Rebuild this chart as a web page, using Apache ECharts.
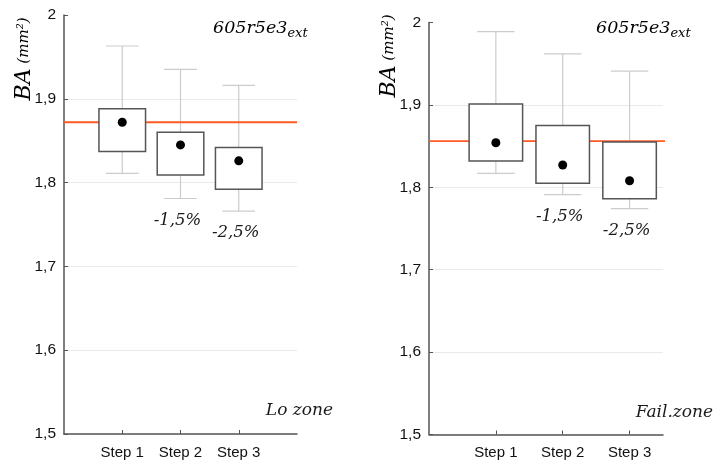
<!DOCTYPE html>
<html>
<head>
<meta charset="utf-8">
<script src="https://cdn.jsdelivr.net/npm/echarts@6/dist/echarts.min.js"></script>
<style>
html,body{margin:0;padding:0;background:#fff;}
#chart{width:715px;height:463px;}
</style>
</head>
<body>
<div id="chart"></div>
<script>
// ---- data ----
const categories = ['Step 1', 'Step 2', 'Step 3'];
const categoryPositions = [1, 2, 3];
const yTicks = [1.5, 1.6, 1.7, 1.8, 1.9, 2];
const changeLabels = ['', '-1,5%', '-2,5%'];

// Lo zone
const loMean = [1.872, 1.845, 1.826];
const loBoxTop = [1.888, 1.860, 1.842];
const loBoxBottom = [1.837, 1.809, 1.792];
const loWhiskerHigh = [1.963, 1.935, 1.916];
const loWhiskerLow = [1.811, 1.781, 1.766];
const loReference = 1.872;

// Fail. zone
const failMean = [1.854, 1.827, 1.808];
const failBoxTop = [1.901, 1.875, 1.855];
const failBoxBottom = [1.832, 1.805, 1.786];
const failWhiskerHigh = [1.989, 1.962, 1.941];
const failWhiskerLow = [1.817, 1.791, 1.774];
const failReference = 1.856;

const panelTitle = '605r5e3';
const panelTitleSub = 'ext';
const zoneNames = ['Lo zone', 'Fail.zone'];

// ---- build ----
function rows(mean, top, bottom, hi, lo) {
  return categoryPositions.map((x, i) => [x, lo[i], bottom[i], mean[i], top[i], hi[i], i]);
}
const loRows = rows(loMean, loBoxTop, loBoxBottom, loWhiskerHigh, loWhiskerLow);
const failRows = rows(failMean, failBoxTop, failBoxBottom, failWhiskerHigh, failWhiskerLow);

const serif = '"DejaVu Serif", "Liberation Serif", serif';
const sans = '"Liberation Sans", Arial, sans-serif';
const fmtY = v => String(+(+v).toFixed(1)).replace('.', ',');

function whiskerItem(params, api) {
  const x = api.value(0);
  const pHi = api.coord([x, api.value(5)]);
  const pLo = api.coord([x, api.value(1)]);
  const unit = api.size([1, 0])[0];
  const cw = unit * 0.56;
  const st = { stroke: '#cccccc', lineWidth: 1.2 };
  return {
    type: 'group',
    children: [
      { type: 'line', shape: { x1: pHi[0], y1: pHi[1], x2: pLo[0], y2: pLo[1] }, style: st },
      { type: 'line', shape: { x1: pHi[0] - cw / 2, y1: pHi[1], x2: pHi[0] + cw / 2, y2: pHi[1] }, style: st },
      { type: 'line', shape: { x1: pLo[0] - cw / 2, y1: pLo[1], x2: pLo[0] + cw / 2, y2: pLo[1] }, style: st }
    ]
  };
}
function boxItem(params, api) {
  const x = api.value(0);
  const pTop = api.coord([x, api.value(4)]);
  const pBot = api.coord([x, api.value(2)]);
  const pMean = api.coord([x, api.value(3)]);
  const pLo = api.coord([x, api.value(1)]);
  const unit = api.size([1, 0])[0];
  const bw = unit * 0.8;
  const label = changeLabels[api.value(6)];
  return {
    type: 'group',
    children: [
      { type: 'rect', shape: { x: pTop[0] - bw / 2, y: pTop[1], width: bw, height: pBot[1] - pTop[1] },
        style: { fill: '#ffffff', stroke: '#555555', lineWidth: 1.5 } },
      { type: 'circle', shape: { cx: pMean[0], cy: pMean[1], r: 4.5 }, style: { fill: '#000000' } },
      { type: 'text', style: { text: label, x: pLo[0] - 3, y: pLo[1] + 22, align: 'center', verticalAlign: 'middle',
        font: 'italic 16.5px ' + serif, fill: '#1a1a1a' } }
    ]
  };
}

function xAxis(gridIndex, max) {
  return {
    type: 'value', gridIndex, min: 0, max, interval: 1,
    axisLine: { show: true, lineStyle: { color: '#555', width: 1.5 } },
    axisTick: { show: true, inside: true, length: 4, customValues: categoryPositions, lineStyle: { color: '#555' } },
    axisLabel: { customValues: categoryPositions, formatter: v => categories[Math.round(v) - 1] || '',
      fontFamily: sans, fontSize: 15, color: '#111', margin: 11 },
    splitLine: { show: false }
  };
}
function yAxis(gridIndex) {
  return {
    type: 'value', gridIndex, min: 1.5, max: 2, interval: 0.1,
    axisLine: { show: true, lineStyle: { color: '#555', width: 1.5 } },
    axisTick: { show: true, inside: true, length: 4, lineStyle: { color: '#555' } },
    axisLabel: { formatter: fmtY, fontFamily: sans, fontSize: 15.5, color: '#111', margin: 8 },
    splitLine: { show: true, showMaxLine: false, lineStyle: { color: '#e9e9e9', width: 1 } }
  };
}

function panelSeries(idx, data, ref, lineEnd) {
  return [
    { type: 'custom', xAxisIndex: idx, yAxisIndex: idx, renderItem: whiskerItem, data, z: 2, silent: true },
    { type: 'line', xAxisIndex: idx, yAxisIndex: idx, data: [[0, ref], [lineEnd, ref]], symbol: 'none',
      lineStyle: { color: '#ff5a24', width: 1.8 }, z: 3, clip: false, silent: true },
    { type: 'custom', xAxisIndex: idx, yAxisIndex: idx, renderItem: boxItem, data, z: 4, silent: true }
  ];
}

const titleRich = {
  a: { fontFamily: serif, fontStyle: 'italic', fontSize: 17.5, color: '#1a1a1a' },
  b: { fontFamily: serif, fontStyle: 'italic', fontSize: 13, color: '#1a1a1a', verticalAlign: 'bottom', padding: [11, 0, 0, 0] }
};
const baRich = {
  a: { fontFamily: serif, fontStyle: 'italic', fontSize: 22, color: '#1a1a1a' },
  b: { fontFamily: serif, fontStyle: 'italic', fontSize: 15, color: '#1a1a1a' }
};

function panelGraphics(titleX, titleY, baX, baY, zoneX, zoneY, zoneName) {
  return [
    { type: 'text', x: titleX, y: titleY, style: { text: '{a|' + panelTitle + '}{b|' + panelTitleSub + '}', rich: titleRich,
      align: 'left', verticalAlign: 'middle' } },
    { type: 'text', x: baX, y: baY, rotation: Math.PI / 2, style: { text: '{a|BA}{b| (mm²)}', rich: baRich,
      align: 'center', verticalAlign: 'middle' } },
    { type: 'text', x: zoneX, y: zoneY, style: { text: zoneName, font: 'italic 17px ' + serif, fill: '#1a1a1a',
      align: 'right', verticalAlign: 'middle' } }
  ];
}

const chart = echarts.init(document.getElementById('chart'), null, { renderer: 'canvas' });
chart.setOption({
  backgroundColor: '#ffffff',
  animation: false,
  grid: [
    { left: 64, top: 15, width: 233, height: 419 },
    { left: 429, top: 22.5, width: 234, height: 412 }
  ],
  xAxis: [xAxis(0, 4), xAxis(1, 3.5)],
  yAxis: [yAxis(0), yAxis(1)],
  series: [
    ...panelSeries(0, loRows, loReference, 4),
    ...panelSeries(1, failRows, failReference, 3.6)
  ],
  graphic: [
    ...panelGraphics(213, 28, 24, 59, 333, 411, zoneNames[0]),
    ...panelGraphics(596, 28, 389, 56, 713, 413, zoneNames[1])
  ]
});
</script>
</body>
</html>
